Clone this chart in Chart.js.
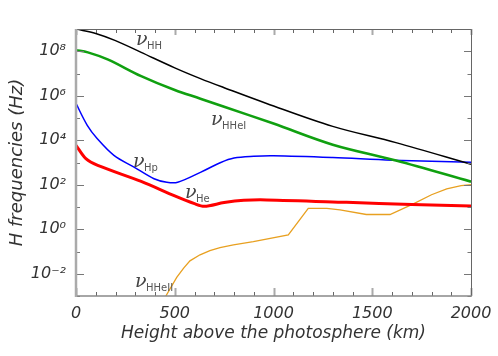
<!DOCTYPE html>
<html>
<head>
<meta charset="utf-8">
<script src="https://cdn.jsdelivr.net/npm/chart.js@4"></script>
<style>
  html, body { margin: 0; background: #fff; }
</style>
</head>
<body>
<canvas id="c" width="498" height="356"></canvas>
<script>
// heights (km) and frequencies (Hz)
const hhKm = [0, 100, 200, 330, 500, 630, 750, 965, 1300, 1620, 2000];
const hhHz = [1e9, 6.3e8, 3.0e8, 8.9e7, 1.8e7, 5.9e6, 2.3e6, 4.5e5, 4.2e4, 7.8e3, 8.3e2];

const hheiKm = [0, 60, 160, 330, 500, 630, 750, 1000, 1300, 1620, 2000];
const hheiHz = [1.12e8, 8.9e7, 4.3e7, 7.6e6, 1.8e6, 7.4e5, 3.2e5, 5.6e4, 6.3e3, 1.23e3, 1.38e2];

const hpKm = [0, 57, 108, 192, 294, 395, 460, 515, 630, 733, 800, 900, 1000, 1300, 1600, 2000];
const hpHz = [4.5e5, 4.7e4, 1.17e4, 2.1e3, 6.2e2, 1.86e2, 1.29e2, 1.29e2, 3.6e2, 1.0e3, 1.58e3, 1.9e3, 2.0e3, 1.66e3, 1.26e3, 1.02e3];

const heKm = [0, 50, 110, 330, 500, 600, 650, 750, 850, 965, 1370, 1700, 2000];
const heHz = [5.9e3, 1.48e3, 7.4e2, 1.41e2, 31.6, 14.1, 10.7, 15.8, 20.0, 20.9, 16.2, 12.9, 11.0];

const hheiiKm = [455, 510, 545, 577, 628, 678, 729, 797, 898, 1075, 1176, 1270, 1337, 1470, 1590, 1708, 1800, 1877, 1950, 2000];
const hheiiHz = [1e-3, 6.8e-3, 1.8e-2, 3.8e-2, 7.1e-2, 0.11, 0.151, 0.2, 0.275, 0.56, 8.7, 8.7, 7.4, 4.6, 4.6, 13.8, 35.5, 64.6, 91.2, 100];

const xTicks = [0, 500, 1000, 1500, 2000];
const yTickExps = [-2, 0, 2, 4, 6, 8];

// curve labels: subscript, anchor height (km), anchor frequency (Hz)
const curveLabels = [
  ['HH', 304, 1.9e8],
  ['HHeI', 684, 4.7e4],
  ['Hp', 289, 6.0e2],
  ['He', 552, 26],
  ['HHeII', 299, 2.6e-3]
];

const pts = (xs, ys) => xs.map((x, i) => ({ x, y: ys[i] }));
const SUP = { '-': '⁻', '0': '⁰', '1': '¹', '2': '²', '3': '³', '4': '⁴', '5': '⁵', '6': '⁶', '7': '⁷', '8': '⁸', '9': '⁹' };
const sup = n => String(n).split('').map(c => SUP[c]).join('');

const tickFont = { family: 'DejaVu Sans', style: 'italic', size: 16 };
const titleFont = { family: 'DejaVu Sans', style: 'italic', size: 17 };

const frame = {
  id: 'frame',
  afterDatasetsDraw(chart) {
    const { ctx, chartArea: a, scales: { x, y } } = chart;
    ctx.save();
    ctx.lineCap = 'butt';
    // x ticks, bottom and top, inward
    for (let v = 0; v <= 2000; v += 100) {
      const px = Math.round(x.getPixelForValue(v)) + 0.5;
      const major = v % 500 === 0;
      ctx.strokeStyle = major ? '#aaa' : '#666';
      ctx.lineWidth = major ? 2 : 1;
      ctx.beginPath();
      ctx.moveTo(px, a.bottom); ctx.lineTo(px, a.bottom - (major ? 8 : 4));
      ctx.moveTo(px, a.top); ctx.lineTo(px, a.top + (major ? 6 : 4));
      ctx.stroke();
    }
    // y ticks, left and right, inward
    for (let e = -3; e <= 9; e++) {
      const py = Math.round(y.getPixelForValue(Math.pow(10, e))) + 0.5;
      const major = e % 2 === 0;
      ctx.strokeStyle = '#777';
      ctx.lineWidth = 1;
      ctx.beginPath();
      ctx.moveTo(a.left, py); ctx.lineTo(a.left + (major ? 8 : 4), py);
      ctx.moveTo(a.right, py); ctx.lineTo(a.right - (major ? 7 : 3.5), py);
      ctx.stroke();
    }
    // frame
    ctx.strokeStyle = '#666';
    ctx.lineWidth = 1;
    ctx.beginPath();
    ctx.moveTo(a.left, a.top + 0.5); ctx.lineTo(a.right + 0.5, a.top + 0.5);
    ctx.lineTo(a.right + 0.5, a.bottom);
    ctx.stroke();
    ctx.strokeStyle = '#888';
    ctx.lineWidth = 1.5;
    ctx.beginPath();
    ctx.moveTo(a.left, a.bottom); ctx.lineTo(a.right + 1, a.bottom);
    ctx.stroke();
    ctx.strokeStyle = '#aaa';
    ctx.lineWidth = 2.5;
    ctx.beginPath();
    ctx.moveTo(a.left, a.top); ctx.lineTo(a.left, a.bottom + 1);
    ctx.stroke();

    // curve labels
    ctx.textBaseline = 'alphabetic';
    ctx.textAlign = 'left';
    curveLabels.forEach(([sub, km, hz]) => {
      const px = x.getPixelForValue(km);
      const py = y.getPixelForValue(hz);
      ctx.fillStyle = '#444';
      ctx.font = 'italic 19px "DejaVu Serif"';
      ctx.fillText('ν', px, py);
      ctx.fillStyle = '#555';
      ctx.font = '10px "DejaVu Sans"';
      ctx.fillText(sub, px + 11, py + 4);
    });
    ctx.restore();
  }
};

new Chart(document.getElementById('c'), {
  type: 'line',
  data: {
    datasets: [
      { data: pts(hhKm, hhHz), borderColor: '#000', borderWidth: 1.5, tension: 0.35 },
      { data: pts(hheiKm, hheiHz), borderColor: '#10a010', borderWidth: 2.6, tension: 0.35 },
      { data: pts(hpKm, hpHz), borderColor: '#0000ff', borderWidth: 1.5, tension: 0.35 },
      { data: pts(heKm, heHz), borderColor: '#ff0000', borderWidth: 3, tension: 0.3 },
      { data: pts(hheiiKm, hheiiHz), borderColor: '#e8a020', borderWidth: 1.3, tension: 0 }
    ]
  },
  options: {
    responsive: false,
    animation: false,
    devicePixelRatio: 1,
    elements: { point: { radius: 0 } },
    layout: { padding: { top: 29, right: 27, left: 0, bottom: 0 } },
    plugins: { legend: { display: false }, tooltip: { enabled: false } },
    scales: {
      x: {
        type: 'linear', min: 0, max: 2000,
        afterBuildTicks: s => { s.ticks = xTicks.map(v => ({ value: v })); },
        afterFit: s => { s.height = 60; s.paddingLeft = 0; s.paddingRight = 0; },
        grid: { display: false, drawTicks: false },
        border: { display: false },
        ticks: { font: tickFont, color: '#333', padding: 8, maxRotation: 0, autoSkip: false, callback: v => String(v) },
        title: { display: true, text: 'Height above the photosphere (km)', font: titleFont, color: '#333', padding: { top: 0, bottom: 12 } }
      },
      y: {
        type: 'logarithmic', min: 1e-3, max: 1e9,
        afterBuildTicks: s => { s.ticks = yTickExps.map(e => ({ value: Math.pow(10, e) })); },
        afterFit: s => { s.width = 76; s.paddingTop = 0; s.paddingBottom = 0; },
        grid: { display: false, drawTicks: false },
        border: { display: false },
        ticks: {
          font: tickFont, color: '#333', padding: 10, autoSkip: false,
          callback: v => '10' + sup(Math.round(Math.log10(v)))
        },
        title: { display: true, text: 'H frequencies (Hz)', font: { family: 'DejaVu Sans', style: 'italic', size: 18 }, color: '#333', padding: { top: 7, bottom: 0 } }
      }
    }
  },
  plugins: [frame]
});
</script>
</body>
</html>
